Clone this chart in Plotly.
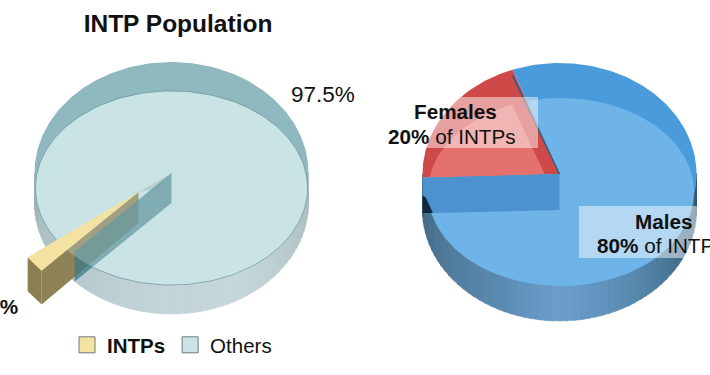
import math
import plotly.graph_objects as go

# ---- data ----
population_labels = ["INTPs", "Others"]
population_values = [2.5, 97.5]
gender_labels = ["Females", "Males"]
gender_values = [20, 80]

FONT = "Liberation Sans, Arial, sans-serif"
INK = "#111111"
fig = go.Figure()


def hexrgb(c):
    return tuple(int(c[i:i + 2], 16) for i in (1, 3, 5))


def ramp(stops, a):
    for (a0, c0), (a1, c1) in zip(stops, stops[1:]):
        if a0 <= a <= a1:
            t = (a - a0) / (a1 - a0)
            r0, r1 = hexrgb(c0), hexrgb(c1)
            return "rgb(%d,%d,%d)" % tuple(r0[i] + (r1[i] - r0[i]) * t for i in range(3))
    return stops[-1][1]


def poly(pts, color, line=None, width=0.0):
    xs = [p[0] for p in pts] + [pts[0][0]]
    ys = [p[1] for p in pts] + [pts[0][1]]
    fig.add_trace(go.Scatter(
        x=xs, y=ys, mode="lines", fill="toself", fillcolor=color,
        line=dict(color=line or color, width=width),
        hoverinfo="skip", showlegend=False))


def rim(cx, cy, rx, ry, a0, a1, n=90):
    return [(cx + rx * math.cos(math.radians(a0 + (a1 - a0) * i / n)),
             cy - ry * math.sin(math.radians(a0 + (a1 - a0) * i / n))) for i in range(n + 1)]


def wall(cx, cy_top, cy_bot, rx, ry, stops, n=60):
    for i in range(n):
        p = 180 + 180 * i / n
        q = 180 + 180 * (i + 1) / n + 0.4
        col = ramp(stops, (p + q) / 2)
        poly(rim(cx, cy_top, rx, ry, p, q, 3) + rim(cx, cy_bot, rx, ry, q, p, 3), col, col, 0.5)


# ---- left pie: population ----
LX, LTOP, LBOT, LRX, LRY = 171.5, 173, 203, 137, 111
LFY, LFRX, LFRY = 188, 136, 97
intp_sweep = population_values[0] * 3.6
others_sweep = population_values[1] * 3.6
intp_start = 216
intp_end = intp_start + intp_sweep
OFFX, OFFY = -33, 19

wall(LX, LTOP, LBOT, LRX, LRY,
     [(180, "#8ea3a8"), (200, "#afc1c5"), (260, "#c2d4d8"), (300, "#c6d8db"), (340, "#b4c5c8"), (360, "#a6b8bb")])

# the "Others" slice seen from above
poly([(LX, LTOP)] + rim(LX, LTOP, LRX, LRY, intp_end, intp_end + others_sweep, 240), "#8fb9be")
poly(rim(LX, LFY, LFRX, LFRY, 0, 360, 180), "#cbe3e6", "rgba(85,135,145,0.7)", 1)

# exploded INTPs slice
tip = (LX + OFFX, LTOP + OFFY)
HL = 32
a_pts = rim(tip[0], tip[1], LRX, LRY, intp_start, intp_end, 8)
p_far, p_near = a_pts[0], a_pts[-1]
poly([tip, (LX, LTOP), (LX - 14, LTOP + 16)], "#b5c5c6")
poly([p_far, p_near, (p_near[0], p_near[1] + HL + 2), (p_far[0], p_far[1] + HL + 2)], "#8c7e53")
poly([p_near, tip, (tip[0], tip[1] + HL - 1), (p_near[0], p_near[1] + HL + 2)], "#8f8156")

# cut face of the "Others" slice
cut = rim(LX, LTOP, LRX, LRY, intp_end, intp_end, 1)[0]
poly([(LX, LTOP), (LX, LBOT), (cut[0], cut[1] + 30), cut], "rgba(55,120,130,0.72)")
poly(rim(LX, LFY, LFRX, LFRY, 0, 360, 180), "rgba(203,227,230,0.3)")
poly([tip] + a_pts, "#f3e2a1")

# ---- right pie: gender split ----
RX, RTOP, RBOT, RRX, RRY = 559.5, 174, 210, 137, 111
RFX, RFY, RFRX, RFRY = 561, 192, 133, 94
female_sweep = gender_values[0] * 3.6
male_sweep = gender_values[1] * 3.6
g_start = 182
g_mid = g_start - female_sweep
g_end = g_mid - male_sweep

wall(RX, RTOP, RBOT, RRX, RRY,
     [(180, "#13304a"), (188, "#3f6585"), (210, "#4f7896"), (245, "#5a8bb2"),
      (270, "#6ca0cc"), (300, "#5a8cb3"), (330, "#44708f"), (352, "#3a5f7c"), (360, "#263f55")])

poly([(RX, RTOP)] + rim(RX, RTOP, RRX, RRY, g_start, g_mid, 60), "#cd4a48")
poly(rim(RFX, RFY, RFRX, RFRY, 171.4, 111.6, 40) + [(545, 175)], "#e5716d")
poly([(RX, RTOP)] + rim(RX, RTOP, RRX, RRY, g_mid, g_end, 240), "#4a9bdb")
# upper face of "Males"
poly([(RX, RTOP)] + rim(RFX, RFY, RFRX, RFRY, 104.4, -180, 240), "#6fb4e9")
# edge of the cut, and cut wall
edge = rim(RX, RTOP, RRX, RRY, g_mid, g_mid, 1)[0]
fig.add_trace(go.Scatter(x=[edge[0], RX], y=[edge[1] + 6, RTOP], mode="lines",
                         line=dict(color="#2d5f85", width=1.5), hoverinfo="skip", showlegend=False))
left = rim(RX, RTOP, RRX, RRY, g_end, g_end, 1)[0]
poly([left, (RX, RTOP), (RX, RBOT), (433, 213), (425, 197), (left[0], 197)], "#4c92cf")
poly([(left[0], 195), (426, 198), (433, 213), (left[0], 213)], "#12293f")

# ---- legend entries ----
legend_colors = ["#f3e2a1", "#cbe3e6"]
for i, (lab, col) in enumerate(zip(population_labels, legend_colors)):
    fig.add_trace(go.Scatter(
        x=[None], y=[None], mode="markers", name=("<b>%s</b>" % lab) if i == 0 else lab,
        marker=dict(symbol="square", size=16, color=col, line=dict(color="#6b7b7d", width=1)),
        hoverinfo="skip"))

# ---- label backings ----
shapes = [
    dict(type="rect", xref="x", yref="y", x0=372, x1=538, y0=97, y1=148,
         fillcolor="rgba(255,255,255,0.48)", line=dict(width=0), layer="above"),
    dict(type="rect", xref="x", yref="y", x0=579, x1=720, y0=206, y1=258,
         fillcolor="rgba(255,255,255,0.48)", line=dict(width=0), layer="above"),
]


def note(x, y, text, anchor="center", size=20.7):
    return dict(x=x, y=y, xref="x", yref="y", text=text, showarrow=False, xanchor=anchor,
                yanchor="middle", font=dict(family=FONT, size=size, color=INK), align="center")


annotations = [
    note(356.5, 94, "%.1f%%" % population_values[1], "right", 22.5),
    note(20, 306, "<b>%.1f%%</b>" % population_values[0], "right", 20.7),
    note(455, 111, "<b>%s</b>" % gender_labels[0]),
    note(452, 136, "<b>%d%%</b> of %s" % (gender_values[0], population_labels[0])),
    note(664, 221, "<b>%s</b>" % gender_labels[1]),
    note(595, 245, "<b>%d%%</b> of %s" % (gender_values[1], population_labels[0]), "left"),
]

fig.update_layout(
    width=710, height=375, margin=dict(l=0, r=0, t=0, b=0),
    paper_bgcolor="white", plot_bgcolor="white",
    xaxis=dict(range=[0, 710], visible=False, fixedrange=True),
    yaxis=dict(range=[375, 0], visible=False, fixedrange=True),
    title=dict(text="<b>INTP Population</b>", x=178 / 710, xanchor="center", y=1 - 23 / 375, yanchor="middle",
               font=dict(family=FONT, size=24.5, color=INK)),
    legend=dict(orientation="h", x=67 / 710, xanchor="left", y=1 - 345 / 375, yanchor="middle",
                itemwidth=30, font=dict(family=FONT, size=20.5, color=INK), bgcolor="rgba(0,0,0,0)",
                itemclick=False, itemdoubleclick=False),
    shapes=shapes, annotations=annotations, hovermode=False,
)
fig.write_html("out.html", config={"displayModeBar": False},
               post_script="document.body.style.margin='0';document.documentElement.style.overflow='hidden';")
